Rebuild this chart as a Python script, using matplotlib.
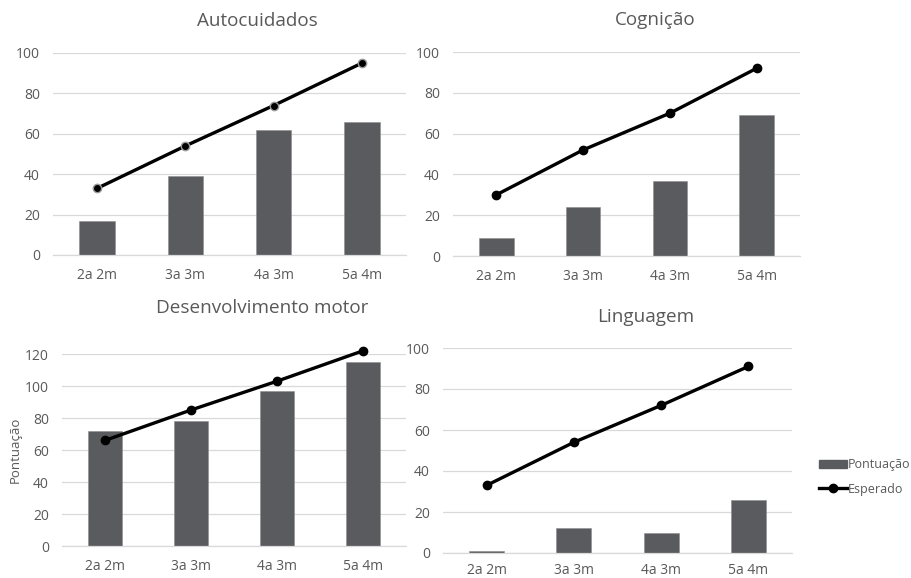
import matplotlib
matplotlib.use("Agg")
import matplotlib.pyplot as plt
from matplotlib.lines import Line2D
from matplotlib.patches import Patch

plt.rcParams['font.family'] = ['Open Sans', 'DejaVu Sans']

categories = ["2a 2m", "3a 3m", "4a 3m", "5a 4m"]

auto_score = [17, 39, 62, 66]
auto_expected = [33, 54, 74, 95]

cog_score = [9, 24, 37, 69]
cog_expected = [30, 52, 70, 92]

motor_score = [72, 78, 97, 115]
motor_expected = [66, 85, 103, 122]

lang_score = [1, 12, 10, 26]
lang_expected = [33, 54, 72, 91]

TEXT = '#595959'
BAR = '#5a5b5e'
GRID = '#d9d9d9'

W, H = 911, 578
fig = plt.figure(figsize=(W / 100, H / 100), dpi=100)
fig.patch.set_facecolor('white')


def px_axes(x0, x1, ytop, ybot):
    return fig.add_axes([x0 / W, (H - ybot) / H, (x1 - x0) / W, (ybot - ytop) / H])


def panel(ax, title, scores, expected, ymax, step, title_xy, edge='black',
          ylabel=None, xpad=9.5):
    x = list(range(len(categories)))
    ax.bar(x, scores, width=0.4, color=BAR, edgecolor='#8c8c8c', linewidth=0.4, zorder=2)
    ax.plot(x, expected, color='black', lw=2.4, marker='o', markersize=6,
            markerfacecolor='black', markeredgecolor=edge, markeredgewidth=1.0,
            zorder=3, clip_on=False, solid_capstyle='round')
    ax.set_xlim(-0.5, len(categories) - 0.5)
    ax.set_ylim(0, ymax)
    ax.set_yticks(range(0, ymax + 1, step))
    ax.set_xticks(x)
    ax.set_xticklabels(categories)
    ax.grid(axis='y', color=GRID, lw=0.9, zorder=0)
    ax.set_axisbelow(True)
    for s in ('top', 'right', 'left'):
        ax.spines[s].set_visible(False)
    ax.spines['bottom'].set_color(GRID)
    ax.spines['bottom'].set_linewidth(0.9)
    ax.tick_params(axis='both', length=0, colors=TEXT, labelsize=10)
    ax.tick_params(axis='y', pad=9.5)
    ax.tick_params(axis='x', pad=xpad)
    if ylabel:
        ax.set_ylabel(ylabel, color=TEXT, fontsize=9.5, labelpad=2.5)
    fig.text(title_xy[0] / W, 1 - title_xy[1] / H, title, ha='center', va='center',
             fontsize=13.6, color=TEXT)


ax1 = px_axes(53, 406, 53, 255)
panel(ax1, "Autocuidados", auto_score, auto_expected, 100, 20, (257, 21), edge='#9a9a9a')

ax2 = px_axes(453, 800, 52, 256)
panel(ax2, "Cognição", cog_score, cog_expected, 100, 20, (655, 20))

ax3 = px_axes(62, 406, 354, 546)
panel(ax3, "Desenvolvimento motor", motor_score, motor_expected, 120, 20, (262, 308),
      ylabel="Pontuação")

ax4 = px_axes(443, 792, 348, 553)
panel(ax4, "Linguagem", lang_score, lang_expected, 100, 20, (646, 317), xpad=7)

handles = [Patch(facecolor=BAR, edgecolor=BAR),
           Line2D([0], [0], color='black', lw=2.4, marker='o', markersize=6)]
fig.legend(handles, ["Pontuação", "Esperado"], loc='center left',
           bbox_to_anchor=(819 / W, 1 - 477 / H), frameon=False, fontsize=9,
           labelcolor=TEXT, handlelength=2.2, handletextpad=0.1, labelspacing=0.9,
           borderpad=0, borderaxespad=0)

fig.savefig("out.png", dpi=100, facecolor='white')
